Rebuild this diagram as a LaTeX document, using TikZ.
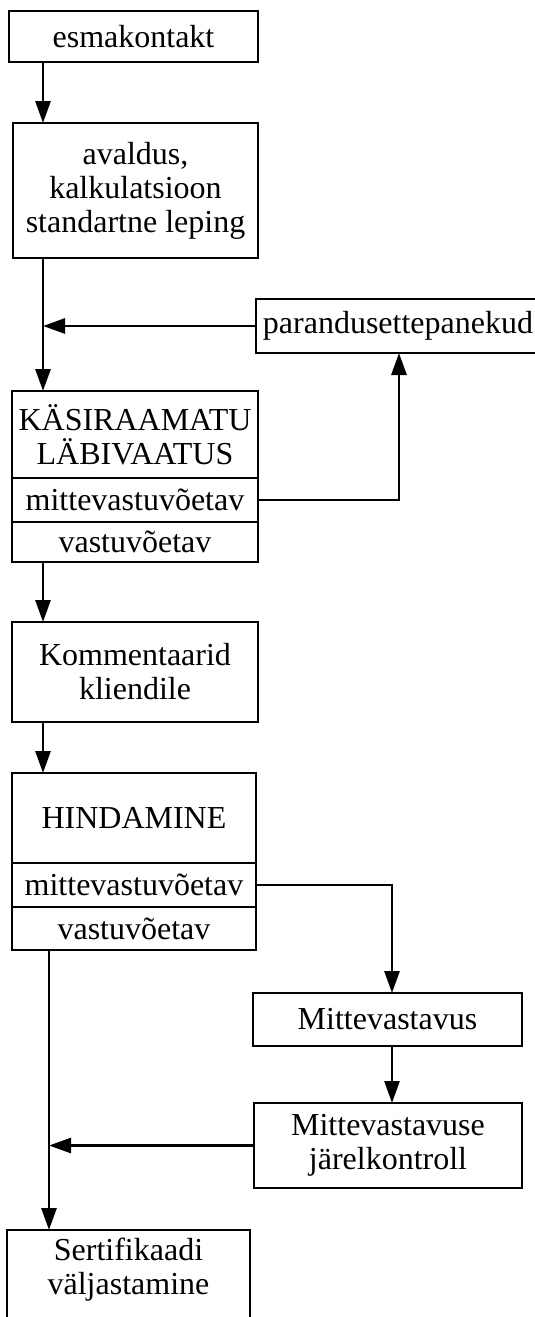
\documentclass[tikz,border=0pt]{standalone}
\usepackage{fontspec}
\setmainfont{Liberation Serif}
\usetikzlibrary{arrows.meta}
\begin{document}
\begin{tikzpicture}[x=0.5pt,y=-0.5pt,
  box/.style={draw, line width=1.4pt, inner sep=1pt, outer sep=0pt, align=center, anchor=north west, font=\fontsize{16}{17}\selectfont},
  conn/.style={line width=1.4pt},
  arr/.style={conn, -{Triangle[length=11pt,width=7.5pt]}}]
\useasboundingbox (0,0) rectangle (535,1317);
% boxes
\node[box, minimum width=124.5pt, minimum height=25.5pt] (esma) at (9,11) {esmakontakt};
\node[box, minimum width=122.5pt, minimum height=67.5pt] (aval) at (13,123) {avaldus,\\kalkulatsioon\\standartne leping};
\node[box, minimum width=142pt, minimum height=27pt] (paran) at (256,299) {parandusettepanekud};
\node[box, minimum width=123pt, minimum height=43.5pt] (kasT) at (12,391) {KÄSIRAAMATU\\LÄBIVAATUS};
\node[box, minimum width=123pt, minimum height=22pt] (kasM) at (12,478) {mittevastuvõetav};
\node[box, minimum width=123pt, minimum height=20pt] (kasV) at (12,522) {vastuvõetav};
\node[box, minimum width=123pt, minimum height=50pt] (komm) at (12,622) {Kommentaarid\\kliendile};
\node[box, minimum width=122pt, minimum height=45pt] (hinT) at (12,773) {HINDAMINE};
\node[box, minimum width=122pt, minimum height=22pt] (hinM) at (12,863) {mittevastuvõetav};
\node[box, minimum width=122pt, minimum height=21.5pt] (hinV) at (12,907) {vastuvõetav};
\node[box, minimum width=134.5pt, minimum height=26.5pt] (mv) at (253,993) {Mittevastavus};
\node[box, minimum width=134pt, minimum height=42.5pt] (mvj) at (254,1103) {Mittevastavuse\\järelkontroll};
\node[box, draw=none, minimum width=121.5pt, minimum height=40pt] (sert) at (7,1230) {Sertifikaadi\\väljastamine};
\draw[conn] ([yshift=-20pt]sert.south west) -- (sert.north west) -- (sert.north east) -- ([yshift=-20pt]sert.south east);
% guide coordinates
\coordinate (cx) at (43,0);
\coordinate (px) at (399,0);
\coordinate (mx) at (392,0);
\coordinate (sx) at (49,0);
% connectors
\draw[arr] (esma.south -| cx) -- (aval.north -| cx);
\draw[arr] (aval.south -| cx) -- (kasT.north -| cx);
\draw[arr] (paran.west) -- (paran.west -| cx);
\draw[arr] (kasM.east) -| (paran.south -| px);
\draw[arr] (kasV.south -| cx) -- (komm.north -| cx);
\draw[arr] (komm.south -| cx) -- (hinT.north -| cx);
\draw[arr] (hinM.east) -| (mv.north -| mx);
\draw[arr] (mv.south -| mx) -- (mvj.north -| mx);
\draw[arr] (mvj.west) -- (mvj.west -| sx);
\draw[arr] (hinV.south -| sx) -- (sert.north -| sx);
\end{tikzpicture}
\end{document}
